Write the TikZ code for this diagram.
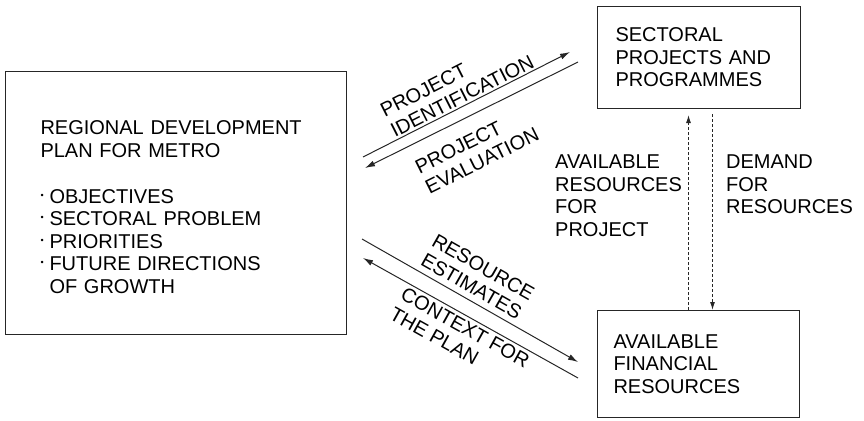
\documentclass[tikz,border=0pt]{standalone}
\usepackage{fontspec}
\setmainfont{Liberation Sans}
\usetikzlibrary{positioning}
\usetikzlibrary{arrows.meta}
\usetikzlibrary{calc}

\newcommand*{\bul}{\makebox[9pt][l]{\raisebox{5pt}{\fontsize{9}{9}\selectfont\textbullet}}}

\tikzset{
  box/.style={draw=black!85, line width=1pt, anchor=north west, align=left},
  flow/.style={draw=black!85, line width=1pt},
  lbl/.style={align=left, inner sep=2pt},
}

\begin{document}
\begin{tikzpicture}[x=1pt, y=-1pt, font=\fontsize{20}{22.5}\selectfont,
    >={Latex[length=10pt,width=6pt]}]
\useasboundingbox (0,0) rectangle (864,420);

% Plan box
\node[box,
    minimum width=341,
    minimum height=263,
    text width=271,
    inner xsep=35
] (plan) at (5,71) {\rule{0pt}{22.3pt}REGIONAL DEVELOPMENT\\PLAN FOR METRO\\[23.5pt]
    \bul OBJECTIVES\\\bul SECTORAL PROBLEM\\\bul PRIORITIES\\
    \bul FUTURE DIRECTIONS\\\hspace*{9pt}OF GROWTH};

% Projects box
\node[box,
    minimum width=203,
    minimum height=102,
    text width=167,
    inner xsep=18
] (sectoral) at (597,6) {SECTORAL\\PROJECTS AND\\PROGRAMMES};

% Resources box
\node[box,
    minimum width=202,
    minimum height=107,
    text width=170,
    inner xsep=16
] (funds) at (597,310) {AVAILABLE\\FINANCIAL\\RESOURCES\par\vspace{14pt}};

% Dashed arrows between the right boxes
\draw[flow, dash pattern=on 3pt off 2pt, -{Latex[length=8pt,width=5pt]}, shorten >=6pt]
    ($(funds.north)+(-10,0)$) -- ($(funds.north |- sectoral.south)+(-10,0)$);
\draw[flow, dash pattern=on 3pt off 2pt, -{Latex[length=8pt,width=5pt]}, shorten <=5pt]
    ($(funds.north |- sectoral.south)+(14,0)$) -- ($(funds.north)+(14,0)$);

\node[lbl, anchor=north west] (availres) at (553,153) {AVAILABLE\\RESOURCES\\FOR\\PROJECT};
\node[lbl, anchor=north west] (demand) at (724,153) {DEMAND\\FOR\\RESOURCES};

% Diagonal arrows
\coordinate (pidA) at (363,157);
\coordinate (pidB) at (570,52);
\coordinate (pevA) at (365,168);
\coordinate (pevB) at (578,62);
\coordinate (resA) at (362,239);
\coordinate (resB) at (578,362);
\coordinate (ctxA) at (363,258);
\coordinate (ctxB) at (578,378);

\draw[flow, ->] (pidA) -- node[lbl, sloped, above=0pt, pos=0.5] (pidlbl) {PROJECT\\IDENTIFICATION} (pidB);
\draw[flow, <-] (pevA) -- node[lbl, sloped, below=13.5pt, pos=0.454] (pevlbl) {PROJECT\\EVALUATION} (pevB);
\draw[flow, ->] (resA) -- node[lbl, sloped, above=3.5pt, pos=0.48] (reslbl) {RESOURCE\\ESTIMATES} (resB);
\draw[flow, <-] (ctxA) -- node[lbl, sloped, below=1.3pt, pos=0.5] (ctxlbl) {CONTEXT FOR\\THE PLAN} (ctxB);

\end{tikzpicture}
\end{document}
